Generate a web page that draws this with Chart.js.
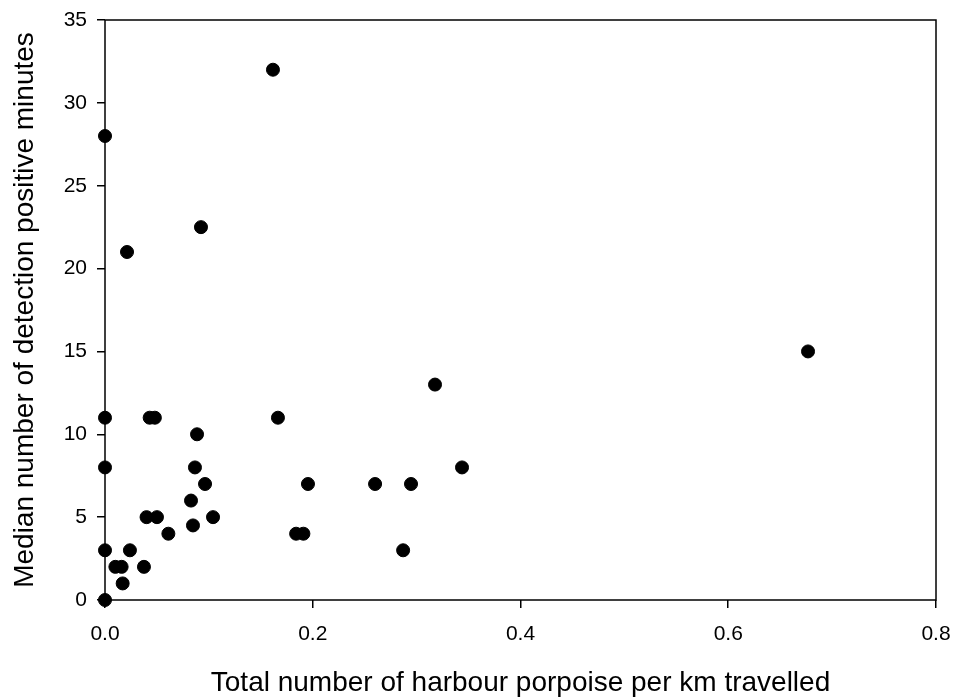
<!DOCTYPE html>
<html>
<head>
<meta charset="utf-8">
<script src="https://cdn.jsdelivr.net/npm/chart.js@4"></script>
<style>
  body { margin: 0; background: #fff; }
  #wrap { width: 953px; height: 700px; }
</style>
</head>
<body>
<div id="wrap"><canvas id="myChart" width="953" height="700"></canvas></div>
<script>
// data
let porpoisePerKm = [0, 0, 0, 0, 0, 0.010, 0.016, 0.017, 0.024, 0.0375, 0.040, 0.050,
  0.043, 0.048, 0.061, 0.0847, 0.0828, 0.0866, 0.0963, 0.104, 0.0886, 0.0212, 0.0924,
  0.1617, 0.1665, 0.184, 0.191, 0.1954, 0.260, 0.287, 0.2946, 0.3177, 0.3437, 0.6768];
let medianMinutes = [0, 3, 8, 11, 28, 2, 2, 1, 3, 2, 5, 5,
  11, 11, 4, 4.5, 6, 8, 7, 5, 10, 21, 22.5,
  32, 11, 4, 4, 7, 7, 3, 7, 13, 8, 15];
let xTicks = [0, 0.2, 0.4, 0.6, 0.8];
let yTicks = [0, 5, 10, 15, 20, 25, 30, 35];

let points = porpoisePerKm.map((x, i) => ({ x: x, y: medianMinutes[i] }));

const FONT = "'Liberation Sans', Arial, sans-serif";

// box round the plot area
const frame = {
  id: "frame",
  afterDraw(chart) {
    let a = chart.chartArea;
    let ctx = chart.ctx;
    ctx.save();
    ctx.strokeStyle = "#000";
    ctx.lineWidth = 1.5;
    ctx.strokeRect(a.left, a.top, a.right - a.left, a.bottom - a.top);
    ctx.restore();
  }
};

let ctx = document.getElementById("myChart").getContext("2d");
let chart = new Chart(ctx, {
  type: "scatter",
  data: {
    datasets: [{
      data: points,
      backgroundColor: "#000",
      borderColor: "#000",
      pointRadius: 6.5,
      pointHoverRadius: 6.5,
      clip: false
    }]
  },
  options: {
    responsive: false,
    animation: false,
    layout: { padding: { top: 20, right: 17, left: 0, bottom: 0 } },
    plugins: { legend: { display: false }, tooltip: { enabled: false } },
    scales: {
      x: {
        type: "linear",
        min: 0, max: 0.8,
        afterBuildTicks: s => { s.ticks = xTicks.map(v => ({ value: v })); },
        afterFit: s => { s.height = 100; s.paddingLeft = 0; s.paddingRight = 0; },
        border: { display: false },
        grid: { drawOnChartArea: false, drawTicks: true, tickLength: 8, tickColor: "#000", lineWidth: 1.5 },
        ticks: {
          color: "#000", padding: 14,
          font: { family: FONT, size: 21 },
          callback: v => v.toFixed(1)
        },
        title: {
          display: true,
          text: "Total number of harbour porpoise per km travelled",
          color: "#000",
          font: { family: FONT, size: 28 },
          padding: { top: 0, bottom: 0 }
        }
      },
      y: {
        type: "linear",
        min: 0, max: 35,
        afterBuildTicks: s => { s.ticks = yTicks.map(v => ({ value: v })); },
        afterFit: s => { s.width = 105; s.paddingTop = 0; s.paddingBottom = 0; },
        border: { display: false },
        grid: { drawOnChartArea: false, drawTicks: true, tickLength: 8, tickColor: "#000", lineWidth: 1.5 },
        ticks: {
          color: "#000", padding: 10,
          font: { family: FONT, size: 21 }
        },
        title: {
          display: true,
          text: "Median number of detection positive minutes",
          color: "#000",
          font: { family: FONT, size: 28 },
          padding: { top: 8, bottom: 0 }
        }
      }
    }
  },
  plugins: [frame]
});
</script>
</body>
</html>
